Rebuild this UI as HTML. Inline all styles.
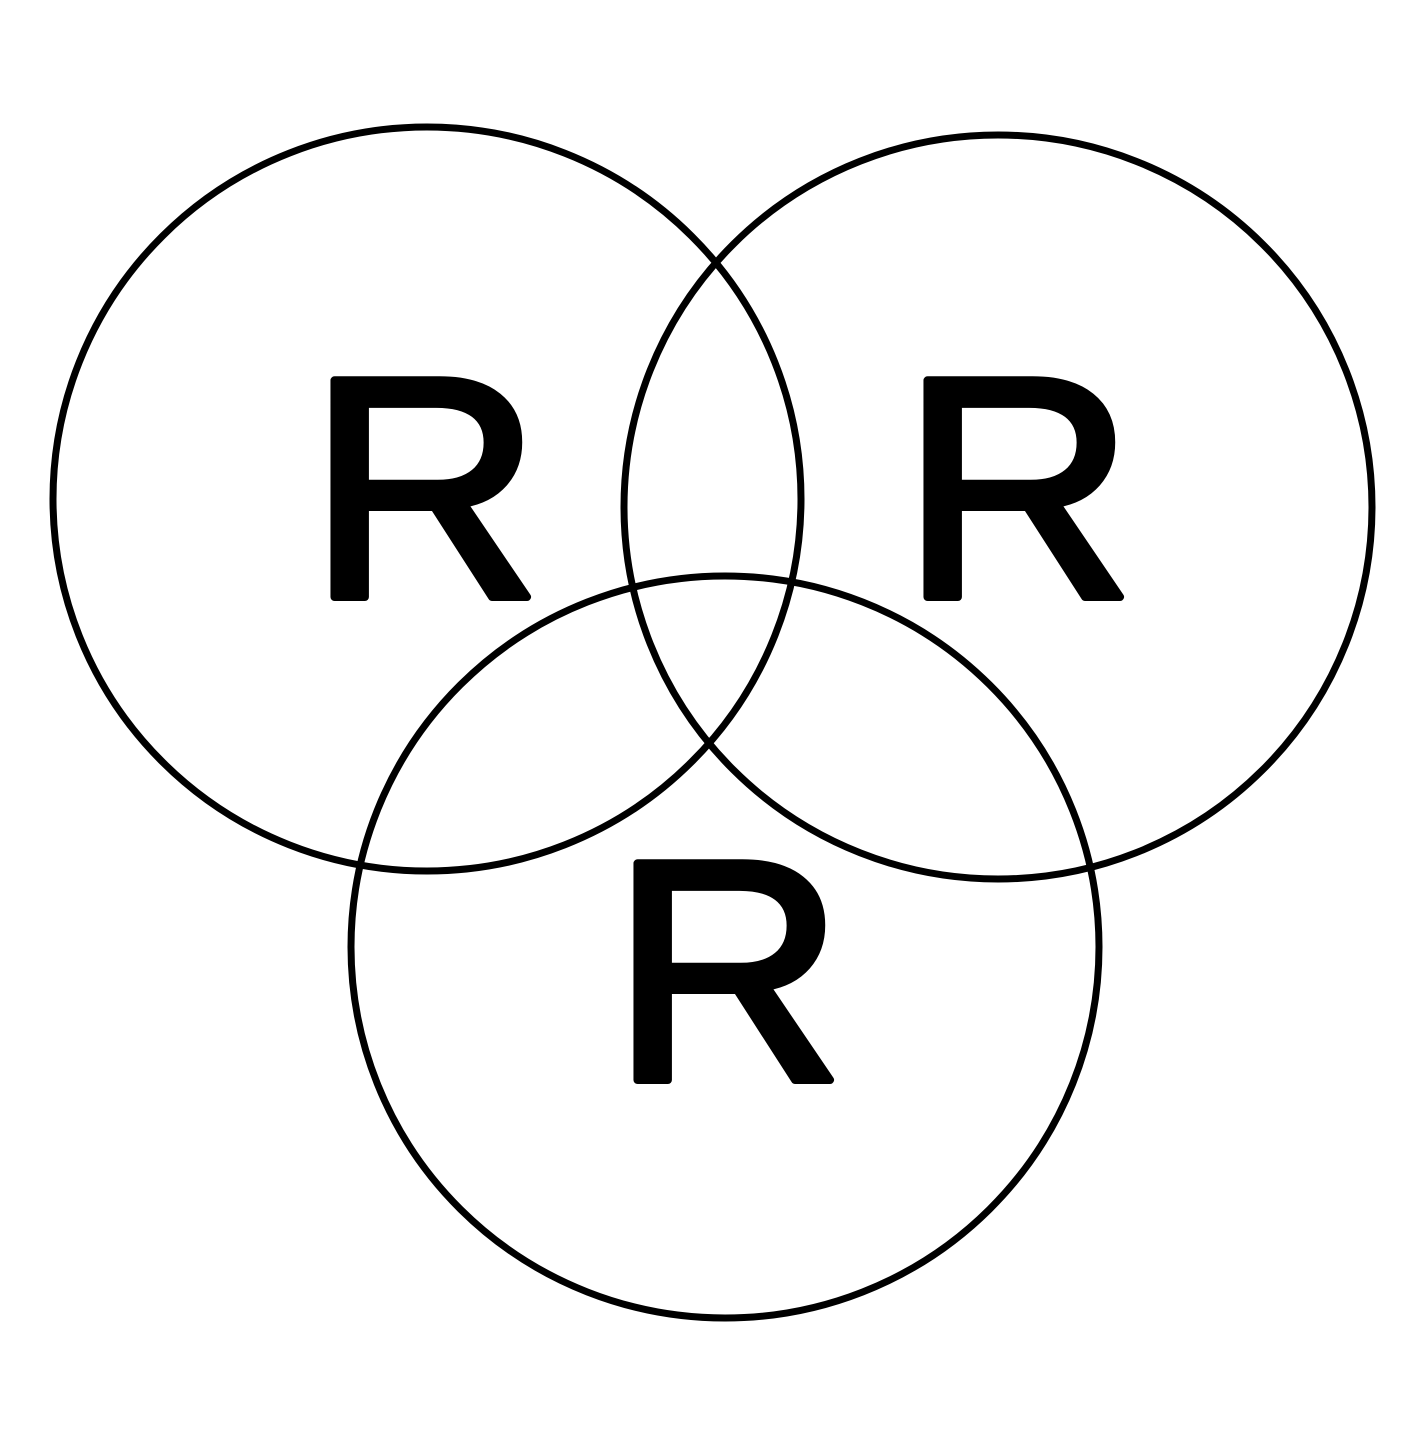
<!DOCTYPE html>
<html><head><meta charset="utf-8"><style>html,body{margin:0;padding:0;background:#fff}</style></head>
<body>
<svg width="1424" height="1424" viewBox="0 0 1424 1424" xmlns="http://www.w3.org/2000/svg">
<rect width="1424" height="1424" fill="#fff"/>
<g fill="none" stroke="#000" stroke-width="7">
<ellipse cx="427" cy="499" rx="374" ry="372"/>
<ellipse cx="998" cy="507" rx="374" ry="372"/>
<ellipse cx="725" cy="947" rx="374" ry="371"/>
</g>
<g font-family="Liberation Sans, Arial, sans-serif" font-weight="400" font-size="315" fill="#000" stroke="#000" stroke-width="8" stroke-linejoin="round">
<text x="308" y="597" textLength="234" lengthAdjust="spacingAndGlyphs">R</text>
<text x="901" y="597" textLength="234" lengthAdjust="spacingAndGlyphs">R</text>
<text x="611" y="1080" textLength="234" lengthAdjust="spacingAndGlyphs">R</text>
</g>
</svg>
</body></html>
